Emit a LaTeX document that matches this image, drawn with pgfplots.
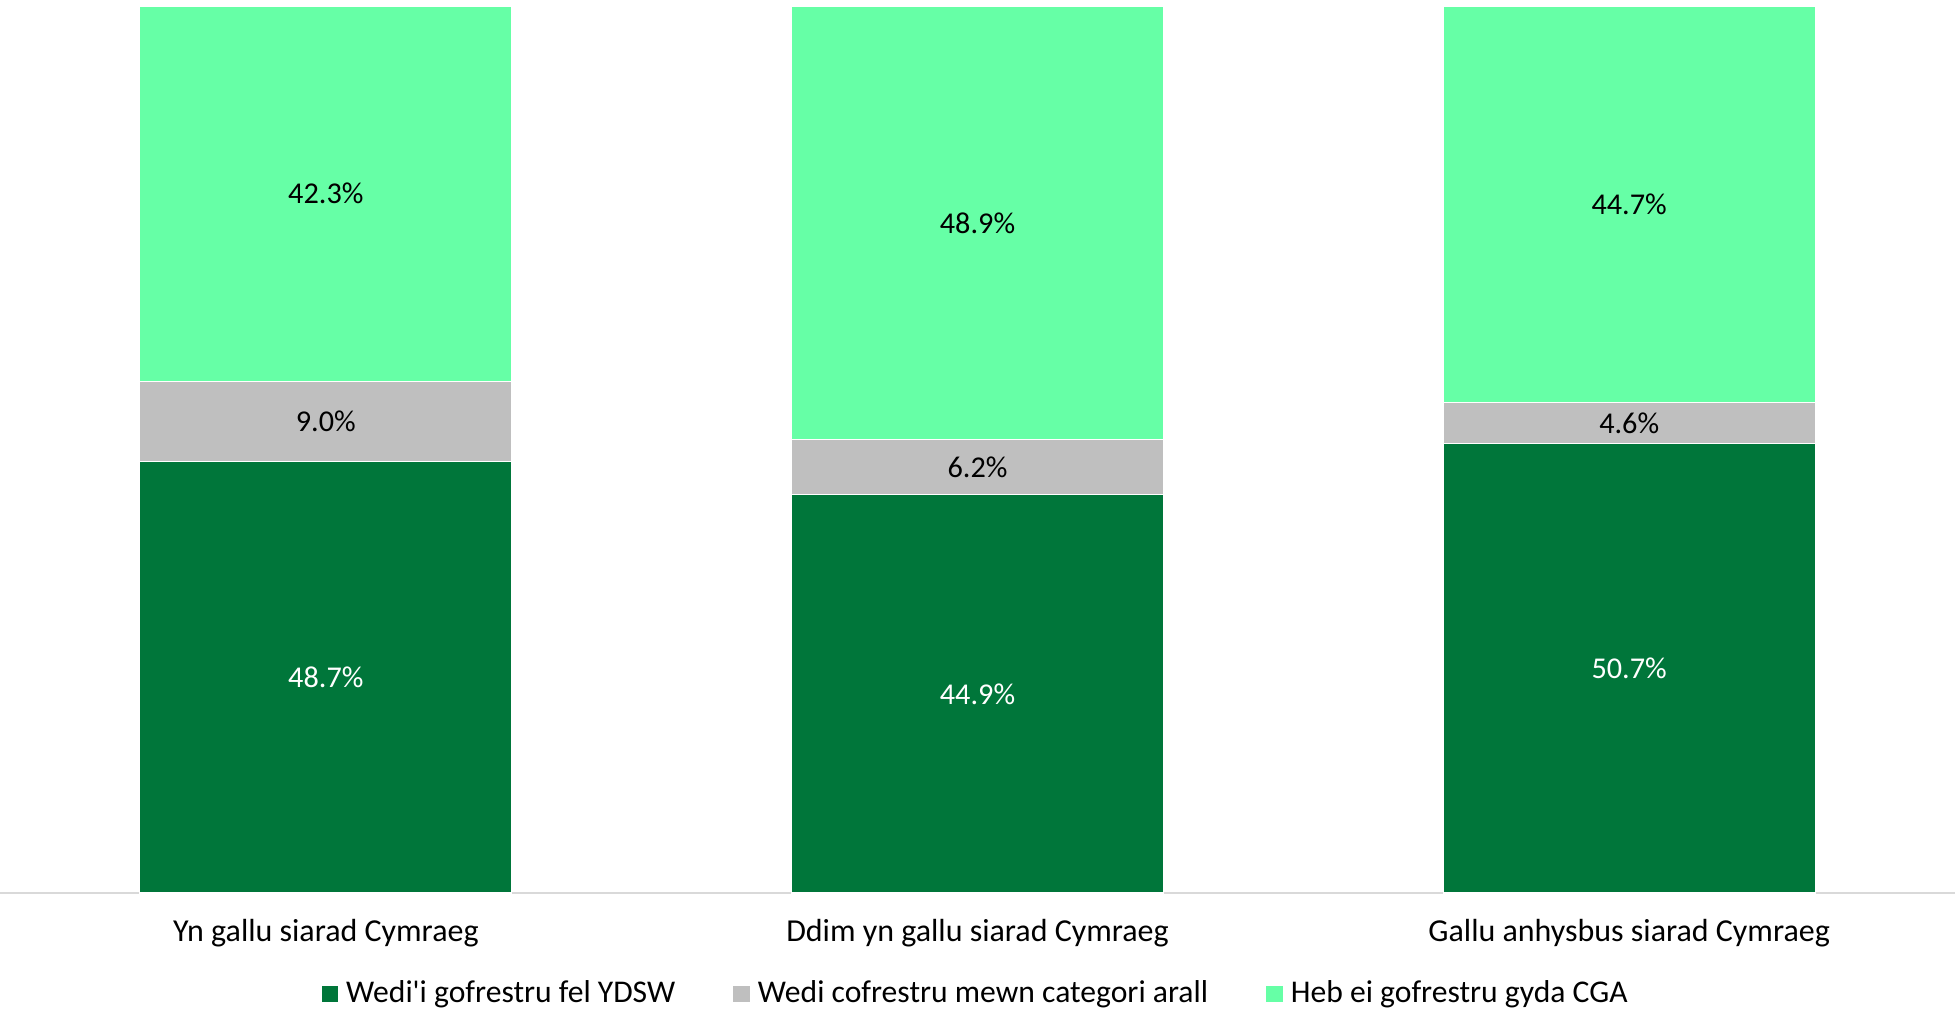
\documentclass[border=0pt]{standalone}
\usepackage{pgfplots}
\pgfplotsset{compat=1.18}
\usepackage{fontspec}
\setmainfont{Carlito}

\definecolor{darkgreen}{RGB}{0,118,58}
\definecolor{midgrey}{RGB}{191,191,191}
\definecolor{lightgreen}{RGB}{102,255,166}
\definecolor{axisgrey}{RGB}{217,217,217}

\begin{document}
\begin{tikzpicture}
\useasboundingbox (0,-1.17cm) rectangle (19.55cm,8.93cm);
\begin{axis}[
    scale only axis,
    width=19.55cm,
    height=8.87cm,
    ybar stacked,
    bar width=3.72cm,
    xmin=-0.5, xmax=2.5,
    ymin=0, ymax=100,
    xtick={0,1,2},
    xticklabels={Yn gallu siarad Cymraeg, Ddim yn gallu siarad Cymraeg, Gallu anhysbus siarad Cymraeg},
    major tick length=0pt,
    ytick=\empty,
    axis x line=bottom,
    axis y line=none,
    x axis line style={draw=axisgrey, line width=0.8pt, -},
    xticklabel style={anchor=base, yshift=-0.48cm, font=\fontsize{9.1}{11}\selectfont},
    /pgf/number format/assume math mode=true,
    point meta=rawy,
    nodes near coords={\pgfmathprintnumber[fixed,fixed zerofill,precision=1]{\pgfplotspointmeta}\%},
    every node near coord/.append style={font=\fontsize{8.6}{10}\selectfont},
    legend style={
        at={(0.5,-0.114)}, anchor=center,
        draw=none, fill=none,
        legend columns=-1,
        font=\fontsize{9}{11}\selectfont,
        /tikz/every even column/.append style={column sep=0.5cm},
    },
    legend image code/.code={\fill[#1] (0cm,-0.088cm) rectangle (0.176cm,0.088cm);},
]
\addplot[fill=darkgreen, draw=white, line width=0.3pt, nodes near coords style={text=white}] coordinates {(0,48.7) (1,44.9) (2,50.7)};
\addplot[fill=midgrey, draw=white, line width=0.3pt, nodes near coords style={text=black}] coordinates {(0,9.0) (1,6.2) (2,4.6)};
\addplot[fill=lightgreen, draw=white, line width=0.3pt, nodes near coords style={text=black}] coordinates {(0,42.3) (1,48.9) (2,44.7)};
\legend{Wedi\textquotesingle i gofrestru fel YDSW, Wedi cofrestru mewn categori arall, Heb ei gofrestru gyda CGA}
\end{axis}
\end{tikzpicture}
\end{document}
